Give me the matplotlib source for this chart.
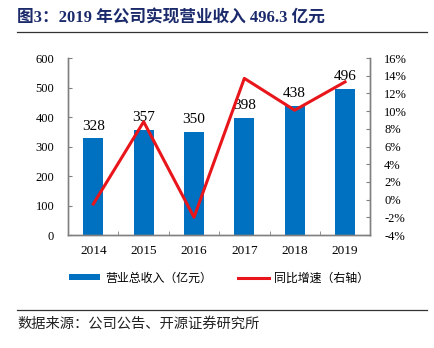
import matplotlib
matplotlib.use("Agg")
import matplotlib.pyplot as plt
from matplotlib.ticker import FixedLocator, FuncFormatter, MultipleLocator

years = ["2014", "2015", "2016", "2017", "2018", "2019"]
revenue = [328, 357, 350, 398, 438, 496]          # 营业总收入（亿元）
growth = [-0.5, 8.8, -2.0, 13.7, 10.1, 13.3]       # 同比增速 %（右轴）
revenue_labels = ["328", "357", "350", "398", "438", "496"]

title = "图3：2019 年公司实现营业收入 496.3 亿元"
source = "数据来源：公司公告、开源证券研究所"

serif = ["Liberation Serif", "Noto Sans CJK SC"]
cjk = ["Noto Sans CJK SC", "DejaVu Sans"]
blue = "#0070C0"
red = "#E8161B"
grey = "#808080"

fig = plt.figure(figsize=(4.34, 3.48), dpi=100)
ax = fig.add_axes([0.157, 0.3247, 0.696, 0.5086])
ax2 = ax.twinx()

x = list(range(len(years)))
bars = ax.bar(x, revenue, width=0.4, color=blue, zorder=2, label="营业总收入（亿元）")
for xi, v, lab in zip(x, revenue, revenue_labels):
    ax.annotate(lab, (xi, v), xytext=(0, 4), textcoords="offset points",
                ha="center", va="bottom", fontsize=11, family=serif)

line, = ax2.plot(x, growth, color=red, lw=2.2, label="同比增速（右轴）")

ax.set_xlim(-0.5, len(years) - 0.5)
ax.set_ylim(0, 600)
ax.yaxis.set_major_locator(MultipleLocator(100))
ax2.set_ylim(-4, 16)
ax2.yaxis.set_major_locator(MultipleLocator(2))
ax2.yaxis.set_major_formatter(FuncFormatter(lambda v, p: f"{v:.0f}%"))

ax.set_xticks(x)
ax.set_xticklabels(years)
ax.xaxis.set_minor_locator(FixedLocator([i + 0.5 for i in x[:-1]]))
ax.tick_params(axis="x", which="major", length=0, pad=7, labelsize=9.5)
ax.tick_params(axis="x", which="minor", direction="in", length=3, color=grey)
ax.tick_params(axis="y", direction="in", length=3, color=grey, labelsize=9, pad=10)
ax2.tick_params(axis="y", direction="in", length=3, color=grey, labelsize=9, pad=10)
for a in (ax, ax2):
    for lab in a.get_xticklabels() + a.get_yticklabels():
        lab.set_family(serif)
    a.spines["top"].set_visible(False)
    for s in ("left", "right", "bottom"):
        a.spines[s].set_color(grey)
        a.spines[s].set_linewidth(1.0)

fig.legend([bars, line], ["营业总收入（亿元）", "同比增速（右轴）"],
           loc="center", bbox_to_anchor=(0.505, 0.201), ncol=2, frameon=False,
           prop={"family": cjk, "size": 8.6}, handlelength=2.6, handleheight=0.35,
           columnspacing=2.2, handletextpad=0.4)

fig.text(0.039, 0.948, title, ha="left", va="center", fontsize=12,
         fontweight="bold", color="#1B2A6B", family=serif)
fig.add_artist(plt.Line2D([0.039, 0.984], [0.908, 0.908], color="#333333", lw=0.9))
fig.add_artist(plt.Line2D([0.039, 0.984], [0.109, 0.109], color="#333333", lw=0.9))
fig.text(0.039, 0.069, source, ha="left", va="center", fontsize=10.3, family=cjk,
         color="#222222")

fig.savefig("out.png", dpi=100)
